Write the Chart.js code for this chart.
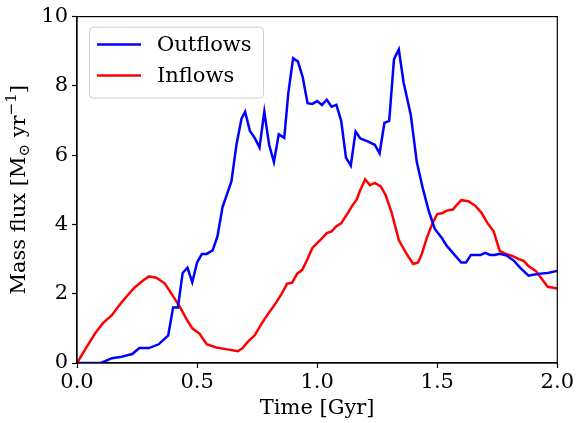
<!DOCTYPE html>
<html>
<head>
<meta charset="utf-8">
<script src="https://cdn.jsdelivr.net/npm/chart.js@4"></script>
<style>
  html, body { margin: 0; padding: 0; background: #fff; }
  #wrap { width: 576px; height: 423px; }
</style>
</head>
<body>
<div id="wrap"><canvas id="fluxChart" width="576" height="423"></canvas></div>
<script>
// Outflow rate vs time
const outTime = [0.0, 0.10, 0.145, 0.18, 0.23, 0.26, 0.30, 0.34, 0.38, 0.40, 0.42, 0.44, 0.46, 0.48, 0.50,
  0.52, 0.54, 0.565, 0.585, 0.606, 0.643, 0.664, 0.685, 0.70, 0.72, 0.74, 0.76, 0.78, 0.80, 0.82, 0.84,
  0.863, 0.88, 0.90, 0.92, 0.94, 0.96, 0.98, 1.00, 1.02, 1.04, 1.06, 1.08, 1.10, 1.12, 1.14, 1.16, 1.18,
  1.21, 1.24, 1.26, 1.28, 1.30, 1.32, 1.34, 1.36, 1.39, 1.415, 1.44, 1.465, 1.49, 1.52, 1.54, 1.575,
  1.60, 1.62, 1.64, 1.66, 1.68, 1.70, 1.72, 1.74, 1.76, 1.79, 1.82, 1.845, 1.88, 1.90, 1.93, 1.96, 2.0];
const outFlux = [0.0, 0.0, 0.14, 0.17, 0.26, 0.43, 0.43, 0.54, 0.80, 1.6, 1.6, 2.6, 2.75, 2.33, 2.9,
  3.15, 3.15, 3.25, 3.66, 4.5, 5.24, 6.3, 7.05, 7.25, 6.7, 6.5, 6.22, 7.25, 6.3, 5.8, 6.6,
  6.5, 7.8, 8.8, 8.7, 8.25, 7.5, 7.48, 7.56, 7.45, 7.6, 7.4, 7.45, 7.0, 5.93, 5.7, 6.68, 6.48,
  6.4, 6.3, 6.05, 6.93, 6.99, 8.77, 9.05, 8.1, 7.16, 5.8, 5.04, 4.38, 3.87, 3.6, 3.38, 3.1,
  2.9, 2.9, 3.12, 3.12, 3.12, 3.18, 3.12, 3.12, 3.15, 3.1, 2.95, 2.75, 2.52, 2.55, 2.58, 2.6, 2.66];

// Inflow rate vs time
const inTime = [0.0, 0.04, 0.075, 0.108, 0.145, 0.18, 0.21, 0.24, 0.275, 0.30, 0.33, 0.365, 0.39, 0.43,
  0.455, 0.48, 0.51, 0.54, 0.58, 0.62, 0.67, 0.69, 0.71, 0.74, 0.77, 0.80, 0.83, 0.855, 0.875, 0.896,
  0.917, 0.938, 0.96, 0.98, 1.00, 1.02, 1.04, 1.06, 1.08, 1.10, 1.125, 1.145, 1.165, 1.18, 1.20, 1.22,
  1.24, 1.265, 1.285, 1.31, 1.34, 1.37, 1.40, 1.42, 1.436, 1.456, 1.48, 1.50, 1.52, 1.54, 1.565, 1.58,
  1.60, 1.63, 1.66, 1.685, 1.71, 1.735, 1.76, 1.785, 1.81, 1.84, 1.86, 1.88, 1.91, 1.935, 1.96, 2.0];
const inFlux = [0.0, 0.46, 0.85, 1.15, 1.38, 1.7, 1.95, 2.18, 2.38, 2.5, 2.46, 2.3, 2.04, 1.6,
  1.28, 1.0, 0.85, 0.54, 0.45, 0.4, 0.34, 0.43, 0.6, 0.8, 1.15, 1.46, 1.75, 2.03, 2.29, 2.32,
  2.58, 2.69, 3.0, 3.32, 3.46, 3.6, 3.75, 3.8, 3.95, 4.03, 4.3, 4.53, 4.72, 5.0, 5.3, 5.13,
  5.2, 5.1, 4.85, 4.35, 3.55, 3.18, 2.86, 2.9, 3.15, 3.6, 4.03, 4.3, 4.32, 4.4, 4.43, 4.55,
  4.7, 4.67, 4.53, 4.33, 4.03, 3.8, 3.24, 3.15, 3.1, 3.0, 2.95, 2.8, 2.66, 2.43, 2.2, 2.15];

const xTicks = [0.0, 0.5, 1.0, 1.5, 2.0];
const yTicks = [0, 2, 4, 6, 8, 10];

// y label pieces: [text, size, baseline shift]
const yLabelParts = [
  ["Mass flux [M", 21, 0],
  ["\u2299", 15, 5],
  [" yr", 21, 0],
  ["\u22121", 15, -8],
  ["]", 21, 0]
];

const serif = "'DejaVu Serif', 'Liberation Serif', serif";

function toPoints(xs, ys) {
  return xs.map((x, i) => ({ x: x, y: ys[i] }));
}

// box around the plot, rotated y label with sub/superscripts, legend top left
const framePlugin = {
  id: "frame",
  afterDraw(chart) {
    const ctx = chart.ctx;
    const a = chart.chartArea;
    ctx.save();
    ctx.strokeStyle = "#000";
    ctx.lineWidth = 1.2;
    ctx.strokeRect(a.left, a.top, a.right - a.left, a.bottom - a.top);

    // y axis label
    ctx.save();
    ctx.translate(19, (a.top + a.bottom) / 2);
    ctx.rotate(-Math.PI / 2);
    ctx.fillStyle = "#000";
    ctx.textBaseline = "middle";
    let total = 0;
    yLabelParts.forEach(p => {
      ctx.font = p[1] + "px " + serif;
      total += ctx.measureText(p[0]).width;
    });
    let x = -total / 2;
    yLabelParts.forEach(p => {
      ctx.font = p[1] + "px " + serif;
      ctx.fillText(p[0], x, p[2] + 1);
      x += ctx.measureText(p[0]).width;
    });
    ctx.restore();

    // legend
    const bx = a.left + 12, by = a.top + 10, bw = 174, bh = 71;
    ctx.fillStyle = "rgba(255,255,255,0.8)";
    ctx.strokeStyle = "#d0d0d0";
    ctx.lineWidth = 1;
    ctx.beginPath();
    ctx.roundRect(bx + 0.5, by + 0.5, bw, bh, 4);
    ctx.fill();
    ctx.stroke();

    ctx.font = "21px " + serif;
    ctx.textBaseline = "middle";
    chart.data.datasets.forEach((ds, i) => {
      const y = by + 18 + i * 31;
      ctx.strokeStyle = ds.borderColor;
      ctx.lineWidth = 2.5;
      ctx.beginPath();
      ctx.moveTo(bx + 8, y);
      ctx.lineTo(bx + 52, y);
      ctx.stroke();
      ctx.fillStyle = "#000";
      ctx.fillText(ds.label, bx + 68, y + 1);
    });
    ctx.restore();
  }
};

new Chart(document.getElementById("fluxChart"), {
  type: "line",
  data: {
    datasets: [
      {
        label: "Outflows",
        data: toPoints(outTime, outFlux),
        borderColor: "#0000ff",
        borderWidth: 2.5,
        pointRadius: 0,
        tension: 0
      },
      {
        label: "Inflows",
        data: toPoints(inTime, inFlux),
        borderColor: "#ff0000",
        borderWidth: 2.5,
        pointRadius: 0,
        tension: 0
      }
    ]
  },
  options: {
    responsive: false,
    animation: false,
    layout: { padding: { top: 14, right: 17, left: 0, bottom: 0 } },
    plugins: {
      legend: { display: false },
      tooltip: { enabled: false }
    },
    scales: {
      x: {
        type: "linear",
        min: 0,
        max: 2,
        afterBuildTicks: s => { s.ticks = xTicks.map(v => ({ value: v })); },
        afterFit: s => { s.height = 60; },
        ticks: {
          color: "#000",
          padding: 2,
          font: { family: serif, size: 21 },
          callback: v => v.toFixed(1)
        },
        grid: { drawOnChartArea: false, drawTicks: true, tickLength: 5, tickColor: "#000", tickWidth: 1.2 },
        border: { display: true, color: "#000", width: 1.2 },
        title: {
          display: true,
          text: "Time [Gyr]",
          color: "#000",
          font: { family: serif, size: 21 },
          padding: { top: 0, bottom: 2 }
        }
      },
      y: {
        min: 0,
        max: 10,
        afterBuildTicks: s => { s.ticks = yTicks.map(v => ({ value: v })); },
        afterFit: s => { s.width = 77; },
        ticks: {
          color: "#000",
          padding: 4,
          font: { family: serif, size: 21 }
        },
        grid: { drawOnChartArea: false, drawTicks: true, tickLength: 5, tickColor: "#000", tickWidth: 1.2 },
        border: { display: true, color: "#000", width: 1.2 }
      }
    }
  },
  plugins: [framePlugin]
});
</script>
</body>
</html>
